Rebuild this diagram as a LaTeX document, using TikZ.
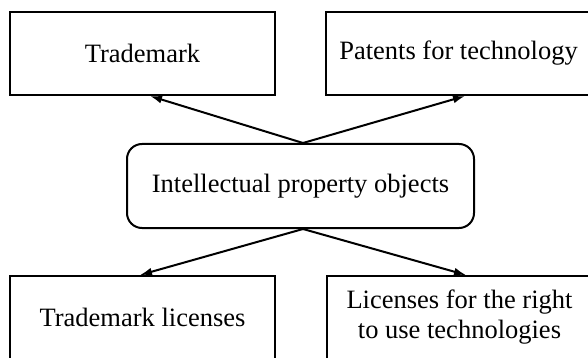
\documentclass[tikz,border=0pt]{standalone}
\usepackage{fontspec}
\setmainfont{Liberation Serif}
\usetikzlibrary{arrows.meta}
\begin{document}
\begin{tikzpicture}[x=1pt,y=-1pt,
  box/.style={draw,line width=2pt,inner sep=0pt,minimum width=265pt,minimum height=83pt,
    font=\fontsize{26.5}{30}\selectfont,align=center},
  rbox/.style={box,rounded corners=15pt,minimum width=347pt,minimum height=84pt},
  conn/.style={line width=2pt,-{Latex[length=12pt,width=8pt]}}]
\useasboundingbox (0,0) rectangle (588,358);
\clip (0,0) rectangle (588,358);
\node[box] (tl) at (142.5,53.5) {Trademark};
\node[box] (tr) at (458.5,53.5) {Patents for technology};
\node[rbox] (c) at (300.5,186) {Intellectual property objects};
\node[box] (bl) at (142.5,317.5) {Trademark licenses};
\node[box] (br) at (459.5,317.5) {Licenses for the right\\to use technologies};
\draw[conn] ([xshift=2.5pt]c.north) -- ([xshift=7.5pt]tl.south);
\draw[conn] ([xshift=2.5pt]c.north) -- ([xshift=6.5pt]tr.south);
\draw[conn] ([xshift=2.5pt]c.south) -- ([xshift=-2.5pt]bl.north);
\draw[conn] ([xshift=2.5pt]c.south) -- ([xshift=6.5pt]br.north);
\end{tikzpicture}
\end{document}
